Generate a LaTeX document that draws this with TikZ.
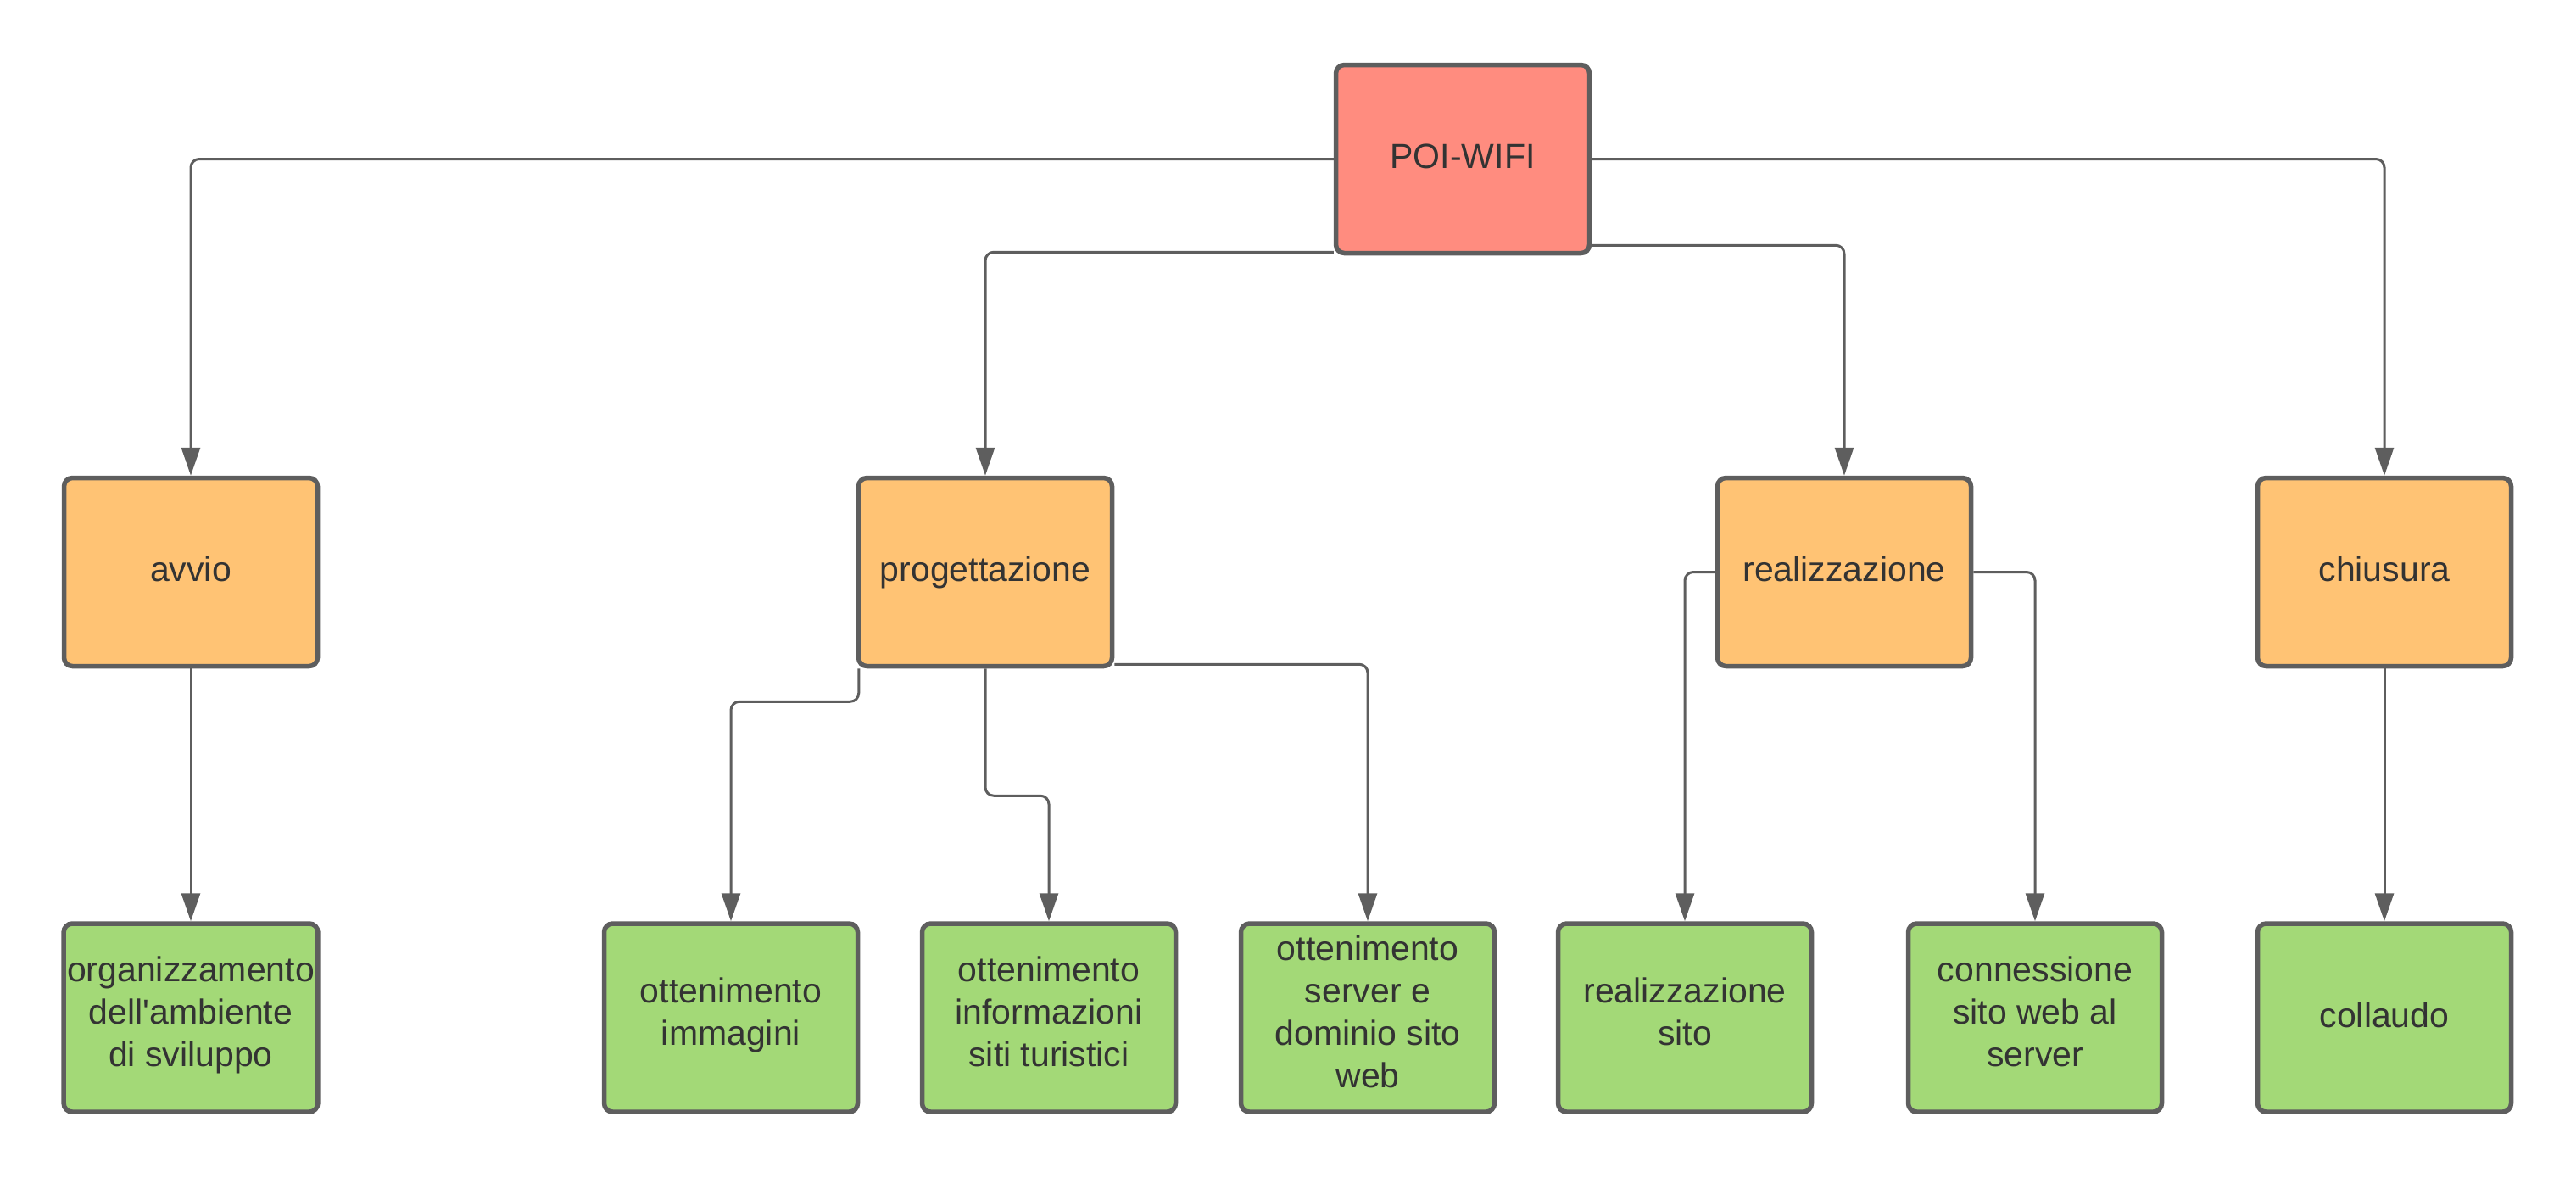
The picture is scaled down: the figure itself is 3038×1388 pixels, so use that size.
\documentclass[tikz,border=0pt]{standalone}
\usepackage{fontspec}
\setmainfont{Liberation Sans}[Ligatures=TeXOff]
\usetikzlibrary{arrows.meta,calc}
\definecolor{edgegray}{HTML}{5E5E5E}
\definecolor{txtgray}{HTML}{333333}
\definecolor{rootfill}{HTML}{FF8C7F}
\definecolor{midfill}{HTML}{FFC374}
\definecolor{leaffill}{HTML}{A3D977}
\newcommand{\mystrut}{\rule[-7pt]{0pt}{25pt}}
\tikzset{
  box/.style={draw=edgegray, line width=2.75pt, rounded corners=5pt,
    minimum width=149.5pt, minimum height=111pt, inner sep=2pt,
    align=center, text=txtgray, font=\fontsize{20.5}{25}\selectfont,
    execute at begin node=\mystrut, execute at end node=\mystrut},
  rootbox/.style={box, fill=rootfill},
  midbox/.style={box, fill=midfill},
  leafbox/.style={box, fill=leaffill},
  conn/.style={draw=edgegray, line width=1.5pt, rounded corners=5pt,
    -{Triangle[length=16.5pt,width=11pt]}}
}
\begin{document}
\begin{tikzpicture}[x=0.5pt,y=-0.5pt]
\useasboundingbox (0,0) rectangle (3038,1388);
\node[rootbox] (root) at (1725,187.5) {POI-WIFI};
\node[midbox] (avvio) at (225,674.5) {avvio};
\node[midbox] (prog) at (1162,674.5) {progettazione};
\node[midbox] (real) at (2175,674.5) {realizzazione};
\node[midbox] (chius) at (2812,674.5) {chiusura};
\node[leafbox] (org) at (225,1200) {organizzamento\\dell'ambiente\\di sviluppo};
\node[leafbox] (imm) at (862,1200) {ottenimento\\immagini};
\node[leafbox] (info) at (1237,1200) {ottenimento\\informazioni\\siti turistici};
\node[leafbox] (serv) at (1613,1200) {ottenimento\\server e\\dominio sito\\web};
\node[leafbox] (rsito) at (1987,1200) {realizzazione\\sito};
\node[leafbox] (cws) at (2400,1200) {connessione\\sito web al\\server};
\node[leafbox] (coll) at (2812,1200) {collaudo};
\draw[conn] (root.west) -| (avvio.north);
\draw[conn] ($(root.south west)+(0,-4)$) -| (prog.north);
\draw[conn] ($(root.south east)+(0,-12)$) -| (real.north);
\draw[conn] (root.east) -| (chius.north);
\draw[conn] (avvio.south) -- (org.north);
\draw[conn] ($(prog.south west)+(3,0)$) -- ++(0,39) -| (imm.north);
\draw[conn] (prog.south) -- ++(0,150) -| (info.north);
\draw[conn] ($(prog.south east)+(0,-5)$) -| (serv.north);
\draw[conn] (real.west) -| (rsito.north);
\draw[conn] (real.east) -| (cws.north);
\draw[conn] (chius.south) -- (coll.north);
\end{tikzpicture}
\end{document}
